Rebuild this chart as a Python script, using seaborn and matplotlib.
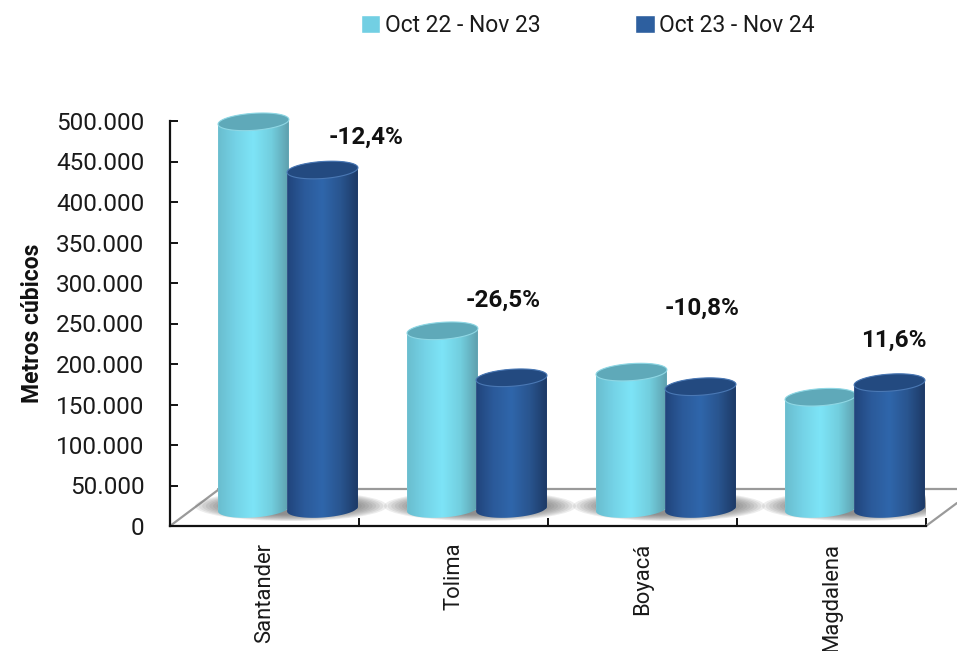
import numpy as np
import pandas as pd
import matplotlib
matplotlib.use("Agg")
import matplotlib.pyplot as plt
import seaborn as sns
from matplotlib.colors import LinearSegmentedColormap
from matplotlib.patches import Polygon, Ellipse
from matplotlib.path import Path
from matplotlib.ticker import FuncFormatter, FixedLocator
from matplotlib.transforms import Affine2D

departments = ["Santander", "Tolima", "Boyacá", "Magdalena"]
period_a = [478000, 220000, 169000, 138000]
period_b = [418500, 162000, 151000, 156000]
names = ["Oct 22 - Nov 23", "Oct 23 - Nov 24"]
changes = ["-12,4%", "-26,5%", "-10,8%", "11,6%"]

W, H = 957, 651
sns.set_style("white")
plt.rcParams["font.family"] = ["Roboto", "DejaVu Sans"]

df = pd.DataFrame({
    "dep": departments * 2,
    "val": period_a + period_b,
    "period": [names[0]] * 4 + [names[1]] * 4,
})

fig = plt.figure(figsize=(W / 100, H / 100), dpi=100)
L, R, T, B = 170, 926, 121, 526
ax = fig.add_axes([L / W, (H - B) / H, (R - L) / W, (B - T) / H])
colors = ["#72cfe3", "#2d5f9f"]
sns.barplot(data=df, x="dep", y="val", hue="period", palette=colors,
            width=0.72, gap=0, ax=ax, saturation=1)
ax.set_xlim(-0.5, 3.5)
ax.set_ylim(0, 500000)
ax.set_xlabel("")

sx = 4 / (R - L)           # category units per pixel
sy = 500000 / (B - T)      # value units per pixel
pix = Affine2D().scale(1, -1).translate(0, H)  # image pixel coords -> display

# floor of the 3D box
floor_edges = [[(170, 526), (218, 490)], [(218, 489), (957, 489)], [(926, 526), (957, 503)]]
for seg in floor_edges:
    xs, ys = zip(*seg)
    ax.plot(xs, ys, transform=pix, color="#9a9a9a", lw=1.6, zorder=1, clip_on=False)

# cylinders
stops_light = ["#69bccd", "#74d2e6", "#7de4f7", "#72cede", "#5d9dab"]
stops_dark = ["#20437a", "#2b5a9a", "#2f66ab", "#29558f", "#1c3864"]
cmaps = [LinearSegmentedColormap.from_list("a", stops_light),
         LinearSegmentedColormap.from_list("b", stops_dark)]
top_faces = ["#5fa9b9", "#234a80"]
rims = ["#8fd7e4", "#4a78b4"]
base_offset = 17 * sy
half_w, half_h = 35.5, 8.5
tilt = np.radians(4)
shift = 23.5 * sx


def ell(cx, cy, t):
    dx = half_w * np.cos(t) * np.cos(tilt) - half_h * np.sin(t) * np.sin(tilt)
    dy = half_w * np.cos(t) * np.sin(tilt) + half_h * np.sin(t) * np.cos(tilt)
    return cx + dx * sx, cy + dy * sy


# soft shadows on the floor
for i in range(4):
    cx = L + (i + 0.5) * 189 + 23.5
    for k in range(10):
        f = 1 - k / 10
        e = Ellipse((cx + 3, 506), 192 * f + 120 * (1 - f), 30 * f + 16 * (1 - f),
                    transform=pix, color="#5e5e5e", alpha=0.11, lw=0, zorder=1.5)
        ax.add_patch(e)

for j, cont in enumerate(ax.containers):
    z = 3 + j
    for patch in cont:
        height = patch.get_height()
        cx = patch.get_x() + patch.get_width() / 2 + shift
        cx += (-1 if j == 0 else 1) * 0.5 * sx
        patch.set_x(cx - half_w * sx)
        patch.set_width(2 * half_w * sx)
        patch.set_y(base_offset)
        patch.set_zorder(z)
        top = base_offset + height
        t1 = np.linspace(np.pi, 2 * np.pi, 60)
        t2 = np.linspace(0, np.pi, 60)
        xb, yb = ell(cx, base_offset, t1)
        xt, yt = ell(cx, top, t2)
        verts = np.column_stack([np.r_[xb, xt, xb[0]], np.r_[yb, yt, yb[0]]])
        clip = Path(verts, closed=True)
        patch.set_clip_path(clip, ax.transData)
        patch.set_clip_box(fig.bbox)
        xmin, xmax = cx - half_w * sx * 1.02, cx + half_w * sx * 1.02
        im = ax.imshow(np.linspace(0, 1, 200)[None, :], cmap=cmaps[j], aspect="auto",
                       extent=[xmin, xmax, 0, top + 30000], zorder=z + 0.1)
        im.set_clip_path(clip, ax.transData)
        im.set_clip_box(fig.bbox)
        tt = np.linspace(0, 2 * np.pi, 120)
        xe, ye = ell(cx, top, tt)
        ax.add_patch(Polygon(np.column_stack([xe, ye]), closed=True, facecolor=top_faces[j],
                             edgecolor=rims[j], lw=0.8, zorder=z + 0.2, clip_on=False))
ax.set_xlim(-0.5, 3.5)
ax.set_ylim(0, 500000)

# axes styling
sns.despine(ax=ax)
for s in ("left", "bottom"):
    ax.spines[s].set_linewidth(1.6)
    ax.spines[s].set_color("#111111")
    ax.spines[s].set_zorder(2)
ax.yaxis.set_major_locator(FixedLocator(np.arange(0, 500001, 50000)))
ax.yaxis.set_major_formatter(FuncFormatter(lambda v, _: f"{int(v):,}".replace(",", ".")))
ax.tick_params(axis="y", direction="in", length=6, width=1.4, color="#111111",
               labelsize=17.5, pad=18.5, labelcolor="#1a1a1a", left=True)
ax.xaxis.set_minor_locator(FixedLocator(np.arange(-0.5, 3.6, 1)))
ax.tick_params(axis="x", which="minor", direction="in", length=6, width=1.4, color="#111111", bottom=True)
ax.tick_params(axis="x", which="major", length=0, labelsize=15.8, pad=12, labelcolor="#1a1a1a",
               labelrotation=90)
ax.set_ylabel("")
fig.text(33 / W, 1 - 323 / H, "Metros cúbicos", rotation=90, ha="center", va="center",
         fontsize=16.5, fontweight="bold", color="#111111")

# percentage labels
label_px = [(366, 137), (503, 300), (702, 308), (894, 340)]
for txt, (px, py) in zip(changes, label_px):
    fig.text(px / W, 1 - py / H, txt, ha="center", va="center", fontsize=17.5,
             fontweight="bold", color="#111111")

# legend
handles, labels = ax.get_legend_handles_labels()
ax.legend(handles, labels, ncols=2, frameon=False, fontsize=16.5, loc="upper left",
          bbox_to_anchor=(340 / W, 1 + 7 / H), bbox_transform=fig.transFigure,
          handlelength=0.85, handleheight=0.85, handletextpad=0.2, columnspacing=4.15,
          labelcolor="#1a1a1a")

fig.savefig("out.png", dpi=100)
